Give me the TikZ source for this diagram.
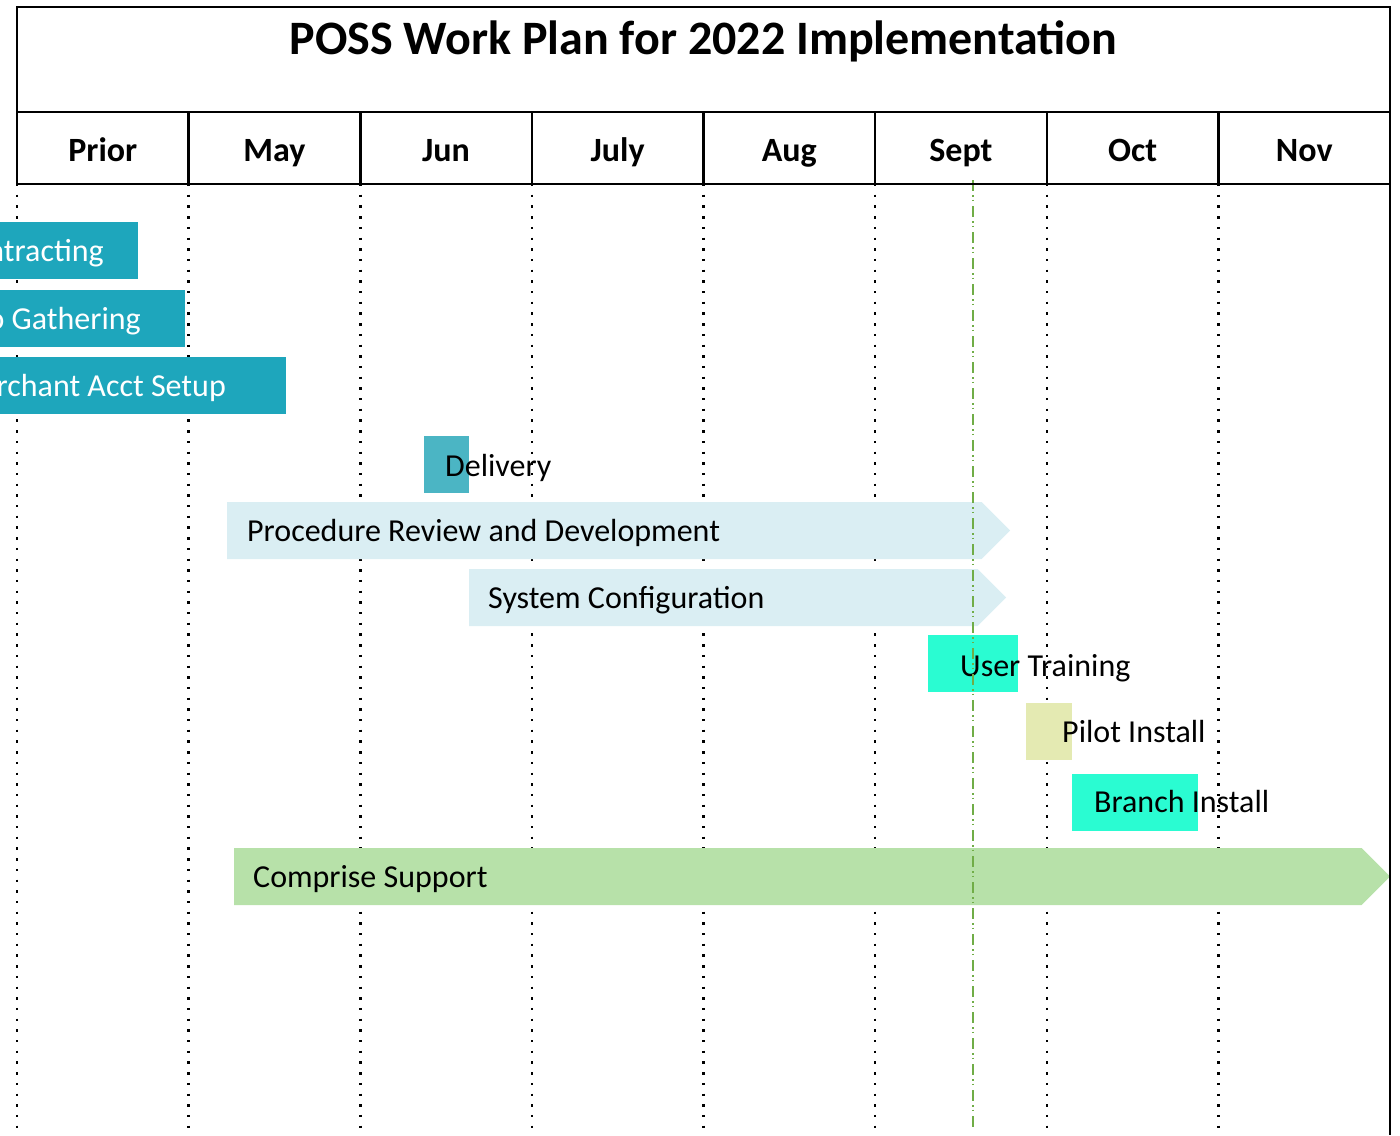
\documentclass[tikz,border=0pt]{standalone}
\usepackage{fontspec}
\setmainfont{Carlito}
\usepackage{tikz}
\usetikzlibrary{shapes.symbols}
\definecolor{tealbar}{RGB}{30,166,188}
\definecolor{delivbar}{RGB}{75,181,196}
\definecolor{palebar}{RGB}{218,238,243}
\definecolor{aquabar}{RGB}{42,252,210}
\definecolor{pilotbar}{RGB}{228,234,178}
\definecolor{supportbar}{RGB}{183,225,169}
\definecolor{septgreen}{RGB}{112,173,71}
\tikzstyle{bar} = [rectangle, inner sep=0pt, minimum height=57pt, anchor=north west]
\tikzstyle{longbar} = [signal, signal to=east, signal pointer angle=90, inner sep=0pt, minimum height=57pt, anchor=west]
\tikzstyle{bartext} = [anchor=base west, inner sep=0pt, font=\fontsize{32}{38}\selectfont]
\tikzstyle{month} = [anchor=base, inner sep=0pt, font=\bfseries\fontsize{34}{40}\selectfont]
\tikzstyle{frame} = [line width=2.5pt]
\tikzstyle{monthline} = [line width=2.4pt, dash pattern=on 2.4pt off 8.3pt]
\tikzstyle{septline} = [septgreen, line width=1.3pt, dash pattern=on 11pt off 4pt on 1.5pt off 3pt on 1.5pt off 5pt]

\begin{document}
\begin{tikzpicture}[x=1pt, y=-1pt]
        \useasboundingbox (0,0) rectangle (1400,1135);
        \foreach \x in {17,188.6,360.3,531.9,703.5,875.1,1046.8,1218.4}
            \draw [monthline] (\x,184) -- (\x,1135);
        \node (contract) [bar, fill=tealbar, minimum width=338pt] at (-200,222) {};
        \node (contracttxt) [bartext, anchor=base east, text=white] at (104,261) {Contracting};
        \node (gather) [bar, fill=tealbar, minimum width=385pt] at (-200,290) {};
        \node (gathertxt) [bartext, anchor=base east, text=white] at (141,329) {Info Gathering};
        \node (merchant) [bar, fill=tealbar, minimum width=486pt] at (-200,357) {};
        \node (merchanttxt) [bartext, anchor=base east, text=white] at (226,396) {Merchant Acct Setup};
        \node (deliv) [bar, fill=delivbar, minimum width=45pt] at (424,436) {};
        \node (delivtxt) [bartext] at (445,476) {Delivery};
        \node (proc) [longbar, fill=palebar, minimum width=783pt] at (227,530.5) {};
        \node (proctxt) [bartext] at (247,541) {Procedure Review and Development};
        \node (config) [longbar, fill=palebar, minimum width=537pt] at (469,597.5) {};
        \node (configtxt) [bartext] at (488,608) {System Configuration};
        \node (train) [bar, fill=aquabar, minimum width=90pt] at (928,635) {};
        \node (traintxt) [bartext] at (960,676) {User Training};
        \node (pilot) [bar, fill=pilotbar, minimum width=46pt] at (1026,703) {};
        \node (pilottxt) [bartext] at (1062,742) {Pilot Install};
        \node (branch) [bar, fill=aquabar, minimum width=126pt] at (1072,774) {};
        \node (branchtxt) [bartext] at (1094,812) {Branch Install};
        \node (support) [longbar, fill=supportbar, minimum width=1156pt] at (234,876.5) {};
        \node (supporttxt) [bartext] at (253,887) {Comprise Support};
        \draw [septline] (973,180) -- (973,1130);
        \node (title) [anchor=base, inner sep=0pt, font=\bfseries\fontsize{48}{56}\selectfont] at (703.5,54) {POSS Work Plan for 2022 Implementation};
        \foreach \m [count=\i] in {Prior,May,Jun,July,Aug,Sept,Oct,Nov}
            \node (m\i) [month] at ({17+(\i-0.5)*171.625},161) {\m};
        \draw [frame] (17,184) -- (17,7) -- (1390,7) -- (1390,1135);
        \draw [frame] (17,112) -- (1390,112);
        \draw [frame] (17,184) -- (1390,184);
        \foreach \x in {188.6,360.3,531.9,703.5,875.1,1046.8,1218.4}
            \draw [frame] (\x,112) -- (\x,184);
    \end{tikzpicture}
\end{document}
